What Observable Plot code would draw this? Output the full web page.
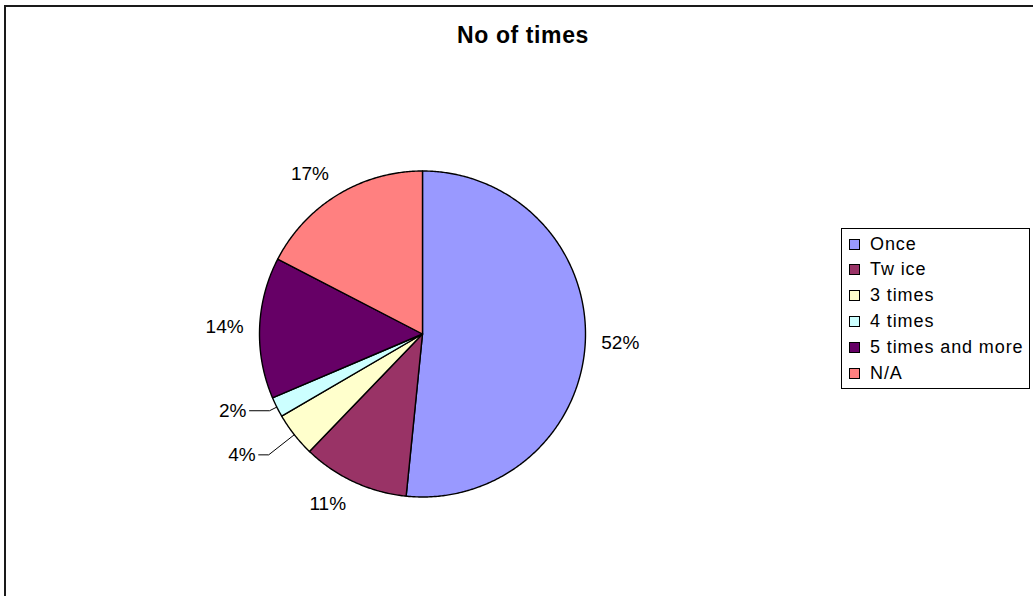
<!DOCTYPE html>
<html>
<head>
<meta charset="utf-8">
<script src="https://cdn.jsdelivr.net/npm/d3@7"></script>
<script src="https://cdn.jsdelivr.net/npm/@observablehq/plot@0.6"></script>
<style>
  body { margin: 0; background: #fff; font-family: "Liberation Sans", Arial, sans-serif; }
  #wrap { position: relative; width: 1033px; height: 596px; overflow: hidden; }
  #frame { position: absolute; left: 4px; top: 5px; width: 1100px; height: 700px; border: 2px solid #1a1a1a; box-sizing: border-box; }
  #title { position: absolute; left: 373px; width: 300px; top: 24px; text-align: center; font-size: 23px; line-height: 23px; font-weight: bold; letter-spacing: 0.6px; }
  #chart { position: absolute; left: 0; top: 0; }
  #legend { position: absolute; left: 841px; top: 228px; width: 189px; height: 161px; border: 1px solid #000; box-sizing: border-box; }
  .item { position: absolute; left: 0; height: 20px; display: flex; align-items: center; font-size: 18px; letter-spacing: 0.9px; white-space: pre; }
  .sw { width: 9px; height: 9px; border: 1px solid #000; margin-left: 7px; margin-right: 10px; }
</style>
</head>
<body>
<div id="wrap">
  <div id="frame"></div>
  <div id="title">No of times</div>
  <div id="chart"></div>
  <div id="legend"></div>
</div>
<script>
// ---- data ----
const names  = ["Once", "Tw ice", "3 times", "4 times", "5 times and more", "N/A"];
const values = [51.6, 10.6, 4.4, 2.0, 14.0, 17.4];
const labels = ["52%", "11%", "4%", "2%", "14%", "17%"];
const colors = ["#9999FF", "#993366", "#FFFFCC", "#CCFFFF", "#660066", "#FF8080"];

// ---- layout (not data) ----
const R = 163;                       // pie radius in px
const leaders = {"3 times": [1.2, 10], "4 times": [1.05, 20]}; // elbow factor, horizontal px

const total = d3.sum(values);
let cum = 0;
const slicePts = [];
const labelPts = [];
const leaderPts = [];
names.forEach((k, i) => {
  const a0 = 2 * Math.PI * cum / total;
  cum += values[i];
  const a1 = 2 * Math.PI * cum / total;
  slicePts.push({k, x: 0, y: 0});
  const n = Math.max(2, Math.ceil((a1 - a0) / (Math.PI / 360)));
  for (let j = 0; j <= n; j++) {
    const t = a0 + (a1 - a0) * j / n;
    slicePts.push({k, x: Math.sin(t), y: Math.cos(t)});
  }
  slicePts.push({k, x: 0, y: 0});
  const m = (a0 + a1) / 2, s = Math.sin(m), c = Math.cos(m);
  if (leaders[k]) {
    const [ef, hl] = leaders[k];
    const p1 = {x: s * ef, y: c * ef};
    const p2 = {x: p1.x - hl / R, y: p1.y};
    leaderPts.push({k, x: s, y: c}, {k, ...p1}, {k, ...p2});
    labelPts.push({k, t: labels[i], x: p2.x - 3 / R, y: p2.y, anchor: "end"});
  } else {
    const f = (R + 15) / R;
    labelPts.push({k, t: labels[i], x: f * s + 20 / R * Math.sign(s), y: f * c + 9 / R * c, anchor: "middle"});
  }
});

const cx = 422, cy = 333.5;
const chart = Plot.plot({
  width: 1033, height: 596,
  marginTop: 0, marginRight: 0, marginBottom: 0, marginLeft: 0,
  x: {domain: [-1, 1], range: [cx - R, cx + R], axis: null},
  y: {domain: [-1, 1], range: [cy + R, cy - R], axis: null},
  color: {type: "ordinal", domain: names, range: colors},
  style: {fontFamily: "'Liberation Sans', Arial, sans-serif", background: "transparent", overflow: "visible"},
  marks: [
    Plot.line(slicePts, {x: "x", y: "y", z: "k", fill: "k", stroke: "#000", strokeWidth: 1.4, strokeLinejoin: "round"}),
    Plot.line(leaderPts, {x: "x", y: "y", z: "k", stroke: "#000", strokeWidth: 1}),
    Plot.text(labelPts.filter(d => d.anchor === "middle"), {x: "x", y: "y", text: "t", fontSize: 19, fill: "#000", textAnchor: "middle"}),
    Plot.text(labelPts.filter(d => d.anchor === "end"), {x: "x", y: "y", text: "t", fontSize: 19, fill: "#000", textAnchor: "end"})
  ]
});
document.getElementById("chart").appendChild(chart);

// legend
const lg = document.getElementById("legend");
names.forEach((k, i) => {
  const it = document.createElement("div");
  it.className = "item";
  it.style.top = (5 + i * 25.8) + "px";
  const sw = document.createElement("span");
  sw.className = "sw";
  sw.style.background = colors[i];
  it.appendChild(sw);
  it.appendChild(document.createTextNode(k));
  lg.appendChild(it);
});
</script>
</body>
</html>
